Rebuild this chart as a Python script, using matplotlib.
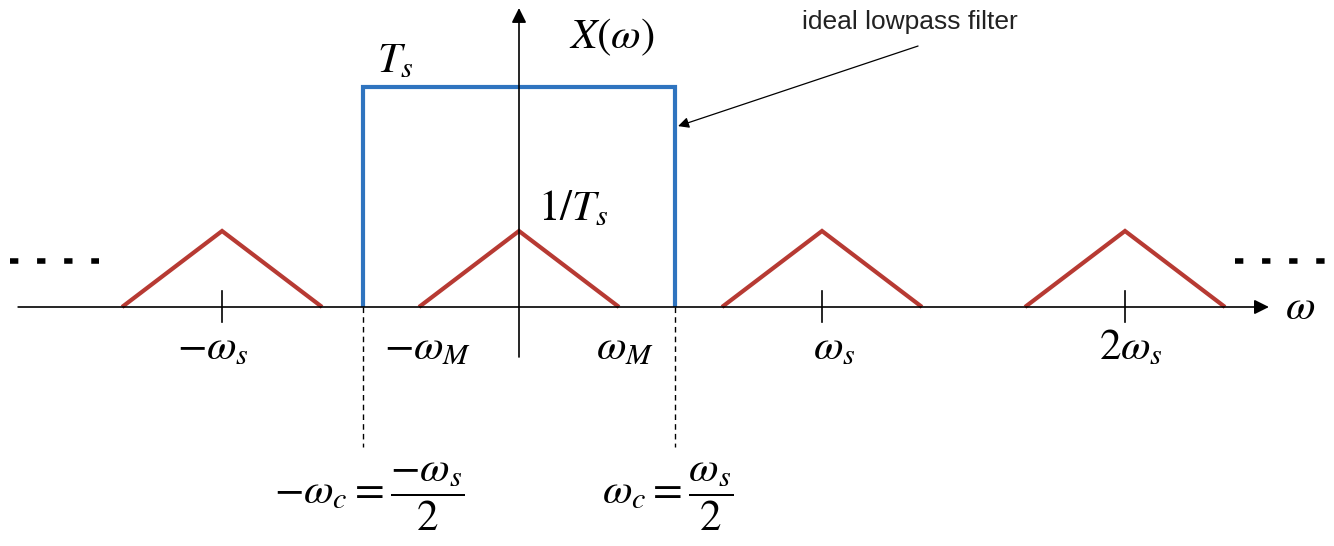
import numpy as np
import matplotlib.pyplot as plt

plt.rcParams['mathtext.fontset'] = 'stix'
plt.rcParams['lines.scale_dashes'] = False

# spectrum of sampled signal, frequencies in units of ws
ws = 1.0
replica_centers = [-0.98, 0, 1, 2]
wM = 0.33
replica_height = 1.0      # 1/Ts
wc = 0.515                # cutoff of the ideal lowpass
filter_gain = 2.9         # Ts

tick_pos = [-0.98, 1, 2]
tick_labels = [r'$-\omega_s$', r'$\omega_s$', r'$2\omega_s$']
tick_label_x = [-1.01, 1.04, 2.02]

red = '#b73a33'
blue = '#2f74bf'

# pixel frame: 0 of w at x=519, 0 of X at y=307
X0, SX = 519, 303
Y0, SY = 307, 76
W, H = 1334, 546

fig = plt.figure(figsize=(W / 100, H / 100), dpi=100)
ax = fig.add_axes([0, 0, 1, 1])
ax.set_xlim(-X0 / SX, (W - X0) / SX)
ax.set_ylim((Y0 - H) / SY, Y0 / SY)
ax.axis('off')

# axes with arrows
ax.annotate('', xy=(2.475, 0), xytext=(-1.653, 0),
            arrowprops=dict(arrowstyle='-|>', lw=1.2, color='k',
                            mutation_scale=22, shrinkA=0, shrinkB=0))
ax.annotate('', xy=(0, 3.934), xytext=(0, -0.658),
            arrowprops=dict(arrowstyle='-|>', lw=1.2, color='k',
                            mutation_scale=22, shrinkA=0, shrinkB=0))

for t in tick_pos:
    ax.plot([t * ws, t * ws], [-0.2, 0.21], color='k', lw=1.2)

# replicas
for c in replica_centers:
    xs = [c * ws - wM, c * ws, c * ws + wM]
    ax.plot(xs, [0, replica_height, 0], color=red, lw=3.0,
            solid_capstyle='butt', solid_joinstyle='miter')

# ideal lowpass filter
ax.plot([-wc, -wc, wc, wc], [0, filter_gain, filter_gain, 0], color=blue,
        lw=3.0, solid_capstyle='butt', solid_joinstyle='miter')

# cutoff markers
for x in [-wc, wc]:
    ax.plot([x, x], [0, -1.84], color='k', lw=1.0, ls=(0, (4, 3)))

# continuation dots
ax.plot([-1.680, -1.386], [0.605, 0.605], color='k', lw=4.0,
        ls=(0, (6, 13.5)), solid_capstyle='butt', dash_capstyle='butt')
ax.plot([2.363, 2.66], [0.605, 0.605], color='k', lw=4.0,
        ls=(0, (6, 13.5)), solid_capstyle='butt', dash_capstyle='butt')

fs = 31
for x, lab in zip(tick_label_x, tick_labels):
    ax.text(x, -0.53, lab, fontsize=fs, ha='center', va='center')
ax.text(-0.30, -0.53, r'$-\omega_M$', fontsize=fs, ha='center', va='center')
ax.text(0.35, -0.53, r'$\omega_M$', fontsize=fs, ha='center', va='center')
ax.text(-0.409, 3.25, r'$T_s$', fontsize=fs, ha='center', va='center')
ax.text(0.307, 3.55, r'$X(\omega)$', fontsize=fs, ha='center', va='center')
ax.text(0.18, 1.30, r'$1/T_s$', fontsize=fs, ha='center', va='center')
ax.text(2.578, 0.0, r'$\omega$', fontsize=fs, ha='center', va='center')
ax.text(-0.495, -2.50, r'$-\omega_c = \dfrac{-\omega_s}{2}$', fontsize=fs,
        ha='center', va='center')
ax.text(0.492, -2.50, r'$\omega_c = \dfrac{\omega_s}{2}$', fontsize=fs,
        ha='center', va='center')

ax.text(1.289, 3.75, 'ideal lowpass filter', fontsize=19,
        family='Liberation Sans', color='#222222', ha='center', va='center')
ax.annotate('', xy=(wc + 0.01, 2.38), xytext=(1.317, 3.434),
            arrowprops=dict(arrowstyle='-|>', lw=0.9, color='k',
                            mutation_scale=16, shrinkA=0, shrinkB=0))

fig.savefig('out.png', dpi=100)
